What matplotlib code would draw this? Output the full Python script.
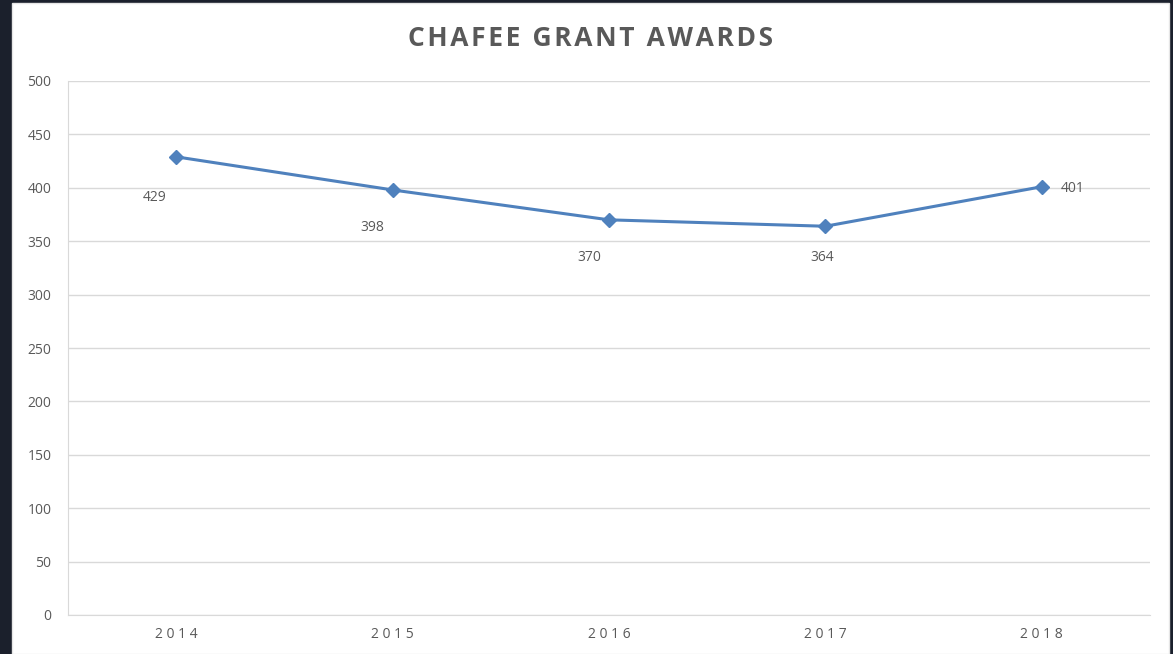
import matplotlib.pyplot as plt
from matplotlib.patches import Rectangle

plt.rcParams['font.family'] = ['Open Sans', 'DejaVu Sans']

years = ['2014', '2015', '2016', '2017', '2018']
awards = [429, 398, 370, 364, 401]
# label offsets in pixels, roughly where Excel placed them
label_offsets = [(-22, -41), (-20, -38), (-20, -38), (-3, -31), (31, -2)]

fig = plt.figure(figsize=(11.73, 6.54), dpi=100, facecolor='#1b202c')
fig.patches.append(Rectangle((12 / 1173, 0), (1169 - 12) / 1173, 1 - 3 / 654,
                             transform=fig.transFigure, facecolor='white',
                             edgecolor='#e6e6e6', lw=1, zorder=-1))

ax = fig.add_axes([68 / 1173, 39 / 654, (1150 - 68) / 1173, (615 - 81) / 654])
ax.set_zorder(2)
ax.set_facecolor('none')

x = range(len(years))
ax.plot(x, awards, color='#4f81bd', lw=2.2, marker='D', markersize=7, zorder=3)

for i, v in enumerate(awards):
    ax.annotate(str(v), (i, v), xytext=label_offsets[i], textcoords='offset pixels',
                ha='center', va='center', fontsize=10, color='#595959')

ax.set_xlim(-0.5, len(years) - 0.5)
ax.set_ylim(0, 500)
ax.set_yticks(range(0, 501, 50))
ax.set_xticks(list(x))
ax.set_xticklabels(['\u2009\u200a'.join(y) for y in years], fontsize=10, color='#595959')
ax.tick_params(axis='y', length=0, pad=12, labelsize=10, labelcolor='#595959')
ax.tick_params(axis='x', length=0, pad=9)

ax.grid(axis='y', color='#d9d9d9', lw=1)
ax.set_axisbelow(True)
for s in ['top', 'right']:
    ax.spines[s].set_visible(False)
ax.spines['left'].set_color('#d9d9d9')
ax.spines['bottom'].set_color('#d9d9d9')

title = 'CHAFEE GRANT AWARDS'
fig.text(590 / 1173, 1 - 39 / 654, '\u200a'.join(title),
         ha='center', va='center', fontsize=19, fontweight='bold', color='#595959', zorder=3)

fig.savefig('out.png', dpi=100, facecolor=fig.get_facecolor())
